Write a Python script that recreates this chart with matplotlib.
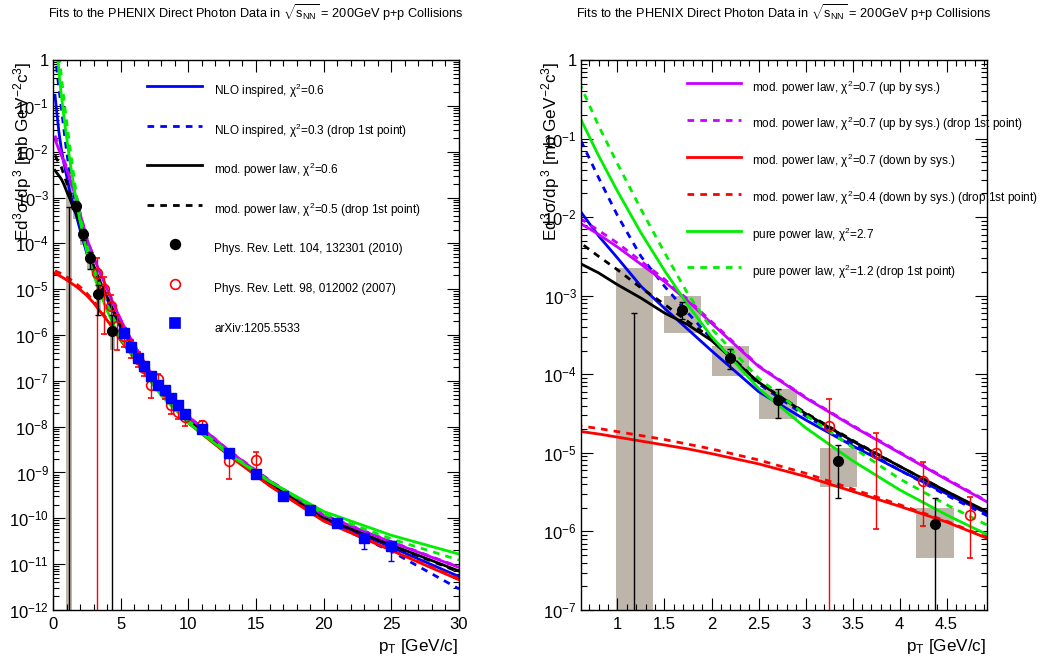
# ============================================
# PHENIX direct photon data in p+p at 200 GeV
# fits: NLO inspired, modified / pure power law
# ============================================

import numpy as np
import matplotlib
matplotlib.use("Agg")
import matplotlib.pyplot as plt
from matplotlib.ticker import FixedLocator, NullFormatter, FuncFormatter, MultipleLocator

plt.rcParams['font.family'] = ['Liberation Sans', 'DejaVu Sans']
plt.rcParams['mathtext.fontset'] = 'custom'
plt.rcParams['mathtext.rm'] = 'Liberation Sans'
plt.rcParams['mathtext.it'] = 'Liberation Sans:italic'
plt.rcParams['mathtext.bf'] = 'Liberation Sans:bold'

# --------------------------------------------
# DATA
# --------------------------------------------

# pT grid on which the fit curves were read [GeV/c]
pt = [0.15, 0.3, 0.45, 0.62, 0.8, 1.0, 1.25, 1.5, 1.75, 2.0, 2.5, 3.0, 3.5,
      4.0, 4.5, 5.0, 6.0, 7.0, 8.0, 10.0, 13.0, 16.0, 20.0, 25.0, 30.0]

# fit curves, log10 of Ed3sigma/dp3 [mb GeV^-2 c^3] read on the log axis
nlo = [-0.77, -1.20, -1.60, -1.95, -2.24, -2.52, -2.88, -3.16, -3.43, -3.70, -4.22, -4.58, -4.91,
       -5.22, -5.52, -5.81, -6.31, -6.81, -7.25, -7.85, -8.59, -9.25, -10.01, -10.63, -11.27]
nlo_drop = [0.15, -0.25, -0.65, -1.05, -1.50, -1.98, -2.50, -2.88, -3.22, -3.55, -4.12, -4.53, -4.88,
            -5.22, -5.54, -5.84, -6.32, -6.82, -7.26, -7.86, -8.60, -9.27, -10.04, -10.72, -11.54]
mpl = [-2.41, -2.47, -2.53, -2.60, -2.71, -2.86, -3.03, -3.22, -3.37, -3.57, -4.10, -4.50, -4.85,
       -5.17, -5.49, -5.79, -6.30, -6.80, -7.24, -7.84, -8.58, -9.23, -9.98, -10.58, -11.15]
mpl_drop = [-2.08, -2.17, -2.25, -2.34, -2.50, -2.67, -2.90, -3.11, -3.33, -3.54, -4.10, -4.49, -4.84,
            -5.17, -5.49, -5.80, -6.31, -6.81, -7.25, -7.85, -8.59, -9.24, -9.99, -10.59, -11.17]
mpl_up = [-1.74, -1.85, -1.97, -2.09, -2.22, -2.38, -2.60, -2.82, -3.07, -3.35, -3.90, -4.30, -4.66,
          -5.00, -5.34, -5.67, -6.22, -6.72, -7.17, -7.78, -8.53, -9.18, -9.93, -10.52, -11.07]
mpl_up_drop = [-1.65, -1.77, -1.90, -2.03, -2.17, -2.33, -2.56, -2.79, -3.05, -3.33, -3.89, -4.29, -4.65,
               -4.99, -5.33, -5.66, -6.21, -6.71, -7.16, -7.77, -8.52, -9.17, -9.92, -10.51, -11.06]
mpl_down = [-4.66, -4.68, -4.70, -4.73, -4.76, -4.80, -4.85, -4.90, -4.95, -5.01, -5.14, -5.30, -5.49,
            -5.68, -5.88, -6.12, -6.50, -6.90, -7.28, -7.92, -8.63, -9.29, -10.06, -10.70, -11.34]
mpl_down_drop = [-4.60, -4.62, -4.64, -4.66, -4.69, -4.73, -4.78, -4.83, -4.89, -4.95, -5.09, -5.26, -5.46,
                 -5.66, -5.87, -6.11, -6.49, -6.89, -7.27, -7.91, -8.62, -9.28, -10.05, -10.69, -11.32]
pure = [0.80, 0.20, -0.30, -0.78, -1.22, -1.67, -2.20, -2.68, -3.12, -3.52, -4.18, -4.68, -5.10,
        -5.47, -5.79, -6.08, -6.50, -6.93, -7.32, -7.92, -8.60, -9.20, -9.85, -10.37, -10.78]
pure_drop = [1.20, 0.60, 0.10, -0.36, -0.84, -1.32, -1.90, -2.45, -2.98, -3.42, -4.05, -4.52, -4.93,
             -5.33, -5.66, -5.96, -6.40, -6.86, -7.27, -7.87, -8.57, -9.19, -9.90, -10.45, -10.91]

# Phys. Rev. Lett. 104, 132301 (2010) - first point lies below the axis
blk_pt = [1.18, 1.69, 2.2, 2.71, 3.35, 4.38]
blk_y = [1e-13, 6.6e-4, 1.6e-4, 4.7e-5, 7.8e-6, 1.25e-6]
blk_lo = [1e-13, 5.0e-4, 1.17e-4, 2.8e-5, 2.7e-6, 1e-13]
blk_hi = [6.1e-4, 8.2e-4, 2.1e-4, 6.45e-5, 1.26e-5, 2.7e-6]
blk_sys_lo = [1e-13, 3.35e-4, 9.4e-5, 2.7e-5, 3.7e-6, 4.6e-7]
blk_sys_hi = [2.25e-3, 1.0e-3, 2.3e-4, 6.45e-5, 1.15e-5, 2.0e-6]

# Phys. Rev. Lett. 98, 012002 (2007)
red_pt = [3.25, 3.75, 4.25, 4.75, 5.25, 5.75, 6.25, 6.75, 7.25, 7.75, 8.25, 8.75, 9.25, 9.75, 11.0, 13.0, 15.0]
red_y = [2.2e-5, 1.0e-5, 4.4e-6, 1.6e-6, 9.5e-7, 5.4e-7, 3.0e-7, 1.9e-7, 8.1e-8, 1.07e-7, 6.0e-8,
         2.95e-8, 2.1e-8, 1.6e-8, 1.1e-8, 1.75e-9, 1.9e-9]
red_lo = [1e-13, 1.07e-6, 1.18e-6, 4.6e-7, 5.6e-7, 3.2e-7, 2.0e-7, 1.26e-7, 4.2e-8, 6.3e-8, 4.0e-8,
          1.86e-8, 1.45e-8, 1.05e-8, 7.9e-9, 7.2e-10, 1.12e-9]
red_hi = [4.8e-5, 1.8e-5, 7.6e-6, 2.75e-6, 1.4e-6, 7.9e-7, 4.2e-7, 2.6e-7, 1.12e-7, 1.41e-7, 7.9e-8,
          4.0e-8, 2.8e-8, 2.1e-8, 1.32e-8, 2.24e-9, 2.8e-9]

# arXiv:1205.5533
blu_pt = [5.25, 5.75, 6.25, 6.75, 7.25, 7.75, 8.25, 8.75, 9.25, 9.75, 11, 13, 15, 17, 19, 21, 23, 25]
blu_y = [1.1e-6, 5.6e-7, 3.2e-7, 2.1e-7, 1.26e-7, 8.1e-8, 6.3e-8, 4.3e-8, 2.9e-8, 1.86e-8, 9.1e-9,
         2.7e-9, 9.3e-10, 3.0e-10, 1.55e-10, 7.9e-11, 3.8e-11, 2.5e-11]
blu_lo = [1.0e-6, 5.1e-7, 2.9e-7, 1.9e-7, 1.14e-7, 7.3e-8, 5.7e-8, 3.9e-8, 2.6e-8, 1.7e-8, 8.3e-9,
          2.45e-9, 8.4e-10, 2.6e-10, 1.35e-10, 6.6e-11, 2.1e-11, 1.17e-11]
blu_hi = [1.2e-6, 6.1e-7, 3.5e-7, 2.3e-7, 1.38e-7, 8.9e-8, 6.9e-8, 4.7e-8, 3.2e-8, 2.05e-8, 1.0e-8,
          2.95e-9, 1.02e-9, 3.4e-10, 1.75e-10, 9.2e-11, 4.5e-11, 3.2e-11]

left_labels = [r"NLO inspired, $\mathregular{\chi^{2}}$=0.6",
               r"NLO inspired, $\mathregular{\chi^{2}}$=0.3 (drop 1st point)",
               r"mod. power law, $\mathregular{\chi^{2}}$=0.6",
               r"mod. power law, $\mathregular{\chi^{2}}$=0.5 (drop 1st point)",
               "Phys. Rev. Lett. 104, 132301 (2010)",
               "Phys. Rev. Lett. 98, 012002 (2007)",
               "arXiv:1205.5533"]
right_labels = [r"mod. power law, $\mathregular{\chi^{2}}$=0.7 (up by sys.)",
                r"mod. power law, $\mathregular{\chi^{2}}$=0.7 (up by sys.) (drop 1st point)",
                r"mod. power law, $\mathregular{\chi^{2}}$=0.7 (down by sys.)",
                r"mod. power law, $\mathregular{\chi^{2}}$=0.4 (down by sys.) (drop 1st point)",
                r"pure power law, $\mathregular{\chi^{2}}$=2.7",
                r"pure power law, $\mathregular{\chi^{2}}$=1.2 (drop 1st point)"]

# --------------------------------------------
# STYLES
# --------------------------------------------

BLUE = '#0000ff'
RED = '#ff0000'
MAG = '#cc00ff'
GRN = '#00ee00'
BOX = '#bdb4aa'
DASH = (0, (2.4, 2.2))

curves = [(nlo, BLUE, '-'), (nlo_drop, BLUE, DASH),
          (mpl, 'black', '-'), (mpl_drop, 'black', DASH),
          (mpl_up, MAG, '-'), (mpl_up_drop, MAG, DASH),
          (mpl_down, RED, '-'), (mpl_down_drop, RED, DASH),
          (pure, GRN, '-'), (pure_drop, GRN, DASH)]

title = r"Fits to the PHENIX Direct Photon Data in $\mathregular{\sqrt{s_{NN}}}$ = 200GeV p+p Collisions"
ylab = r"E$\mathregular{d^{3}\sigma/dp^{\,3}}$ [mb GeV$\mathregular{^{-2}}$c$\mathregular{^{3}}$]"
xlab = r"$\mathregular{p_{T}}$ [GeV/c]"


def decade_fmt(v, pos):
    e = int(round(np.log10(v)))
    if e == 0:
        return "1"
    return r"$\mathregular{10^{%d}}$" % e


def err(y, lo, hi):
    y = np.array(y)
    return [y - np.array(lo), np.array(hi) - y]


def draw_panel(ax, emin):
    ax.set_yscale('log')
    # systematic boxes
    ax.bar(blk_pt, np.array(blk_sys_hi) - np.array(blk_sys_lo), bottom=blk_sys_lo,
           width=0.4, color=BOX, zorder=1)
    for vals, col, ls in curves:
        ax.plot(pt, 10 ** np.array(vals), color=col, ls=ls, lw=2.0, zorder=2)
    ax.errorbar(red_pt, red_y, yerr=err(red_y, red_lo, red_hi), fmt='o', color=RED,
                mfc='none', mec=RED, mew=1.2, ms=7, elinewidth=1.0, capsize=2.5, zorder=4)
    ax.errorbar(blu_pt, blu_y, yerr=err(blu_y, blu_lo, blu_hi), fmt='s', color=BLUE,
                ms=6.5, elinewidth=1.0, capsize=2.5, zorder=5)
    ax.errorbar(blk_pt, blk_y, yerr=err(blk_y, blk_lo, blk_hi), fmt='o', color='black',
                ms=7, elinewidth=1.0, capsize=2.5, zorder=5)

    # decade ticks only inside the visible range
    exps = np.arange(emin, 1)
    ax.yaxis.set_major_locator(FixedLocator(10.0 ** exps))
    ax.yaxis.set_minor_locator(FixedLocator([m * 10.0 ** e for e in exps[:-1] for m in range(2, 10)]))
    ax.yaxis.set_major_formatter(FuncFormatter(decade_fmt))
    ax.yaxis.set_minor_formatter(NullFormatter())
    ax.set_ylim(10.0 ** emin, 1)
    ax.tick_params(which='both', direction='in', top=True, right=True, width=0.8)
    ax.tick_params(which='major', length=8.5, labelsize=12)
    ax.tick_params(which='minor', length=4.3)
    ax.tick_params(axis='y', pad=3)
    ax.tick_params(axis='x', pad=5)
    for s in ax.spines.values():
        s.set_linewidth(1.0)
    ax.text(-0.075, 0.997, ylab, rotation=90, ha='center', va='top', fontsize=12.3,
            transform=ax.transAxes)
    ax.text(0.997, -0.067, xlab, ha='right', va='center', fontsize=12.3, transform=ax.transAxes)
    pos = ax.get_position()
    fig.text((pos.x0 + pos.x1) / 2, 1 - 13 / 664, title, ha='center', va='center', fontsize=9.2)


# --------------------------------------------
# FIGURE
# --------------------------------------------

fig = plt.figure(figsize=(10.42, 6.64), dpi=100)
ax1 = fig.add_axes([53 / 1042, 1 - 610 / 664, 406 / 1042, 550 / 664])
ax2 = fig.add_axes([581 / 1042, 1 - 610 / 664, 406 / 1042, 550 / 664])

draw_panel(ax1, -12)
ax1.set_xlim(0, 30)
ax1.xaxis.set_major_locator(FixedLocator([0, 5, 10, 15, 20, 25, 30]))
ax1.xaxis.set_minor_locator(FixedLocator(range(1, 30)))

draw_panel(ax2, -7)
ax2.set_xlim(0.612, 4.93)
ax2.xaxis.set_major_locator(FixedLocator([1.0, 1.5, 2.0, 2.5, 3.0, 3.5, 4.0, 4.5]))
ax2.xaxis.set_minor_locator(FixedLocator(np.arange(7, 50) / 10.0))
ax2.xaxis.set_major_formatter(FuncFormatter(lambda v, pos: "%g" % v))

# --------------------------------------------
# LEGENDS (drawn by hand, ROOT style)
# --------------------------------------------

# left panel: 4 lines + 3 marker rows
left_styles = [(BLUE, '-'), (BLUE, DASH), ('black', '-'), ('black', DASH)]
left_markers = [('o', 'black', 'black'), ('o', 'none', RED), ('s', BLUE, BLUE)]
y0, dy = 0.9527, 0.0719
for i, lab in enumerate(left_labels):
    y = y0 - i * dy
    if i < len(left_styles):
        col, ls = left_styles[i]
        ax1.plot([0.2315, 0.367], [y, y], color=col, ls=ls, lw=2.0, transform=ax1.transAxes)
    else:
        m, fc, ec = left_markers[i - len(left_styles)]
        ax1.plot([0.2995], [y], marker=m, mfc=fc, mec=ec, mew=1.2, ms=7 if m == 'o' else 6.5,
                 ls='none', transform=ax1.transAxes)
    ax1.text(0.3966, y - 0.0095, lab, fontsize=8.5, va='center', ha='left', transform=ax1.transAxes)

# right panel: 6 lines
right_styles = [(MAG, '-'), (MAG, DASH), (RED, '-'), (RED, DASH), (GRN, '-'), (GRN, DASH)]
y0, dy = 0.9576, 0.0669
for i, lab in enumerate(right_labels):
    y = y0 - i * dy
    col, ls = right_styles[i]
    ax2.plot([0.2618, 0.3933], [y, y], color=col, ls=ls, lw=2.0, transform=ax2.transAxes)
    ax2.text(0.4204, y - 0.0075, lab, fontsize=8.5, va='center', ha='left', clip_on=False,
             transform=ax2.transAxes)

plt.savefig("out.png", dpi=100)
